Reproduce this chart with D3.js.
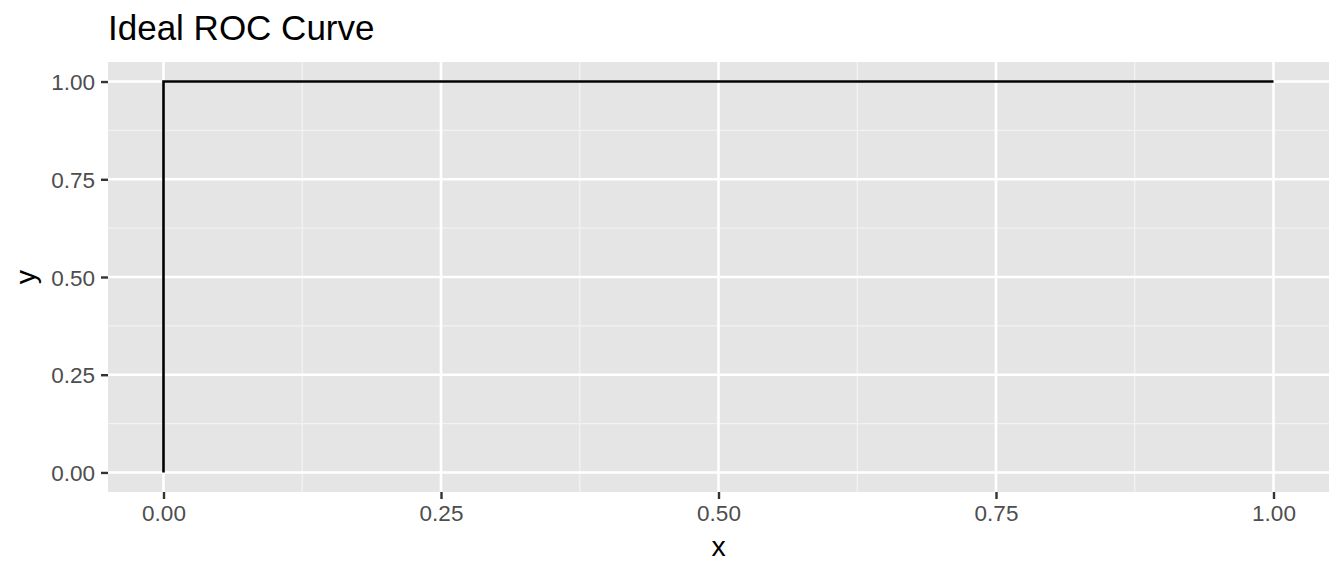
<!DOCTYPE html>
<html>
<head>
<meta charset="utf-8">
<script src="https://cdn.jsdelivr.net/npm/d3@7"></script>
<style>
  html, body { margin: 0; padding: 0; background: #fff; }
  svg { display: block; font-family: "Liberation Sans", Arial, Helvetica, sans-serif; }
</style>
</head>
<body>
<svg id="chart" width="1344" height="576"></svg>
<script>
// Data
const xValues = [0, 0, 1];
const yValues = [0, 1, 1];
const xTicks = [0, 0.25, 0.5, 0.75, 1];
const yTicks = [0, 0.25, 0.5, 0.75, 1];
const xMinor = [0.125, 0.375, 0.625, 0.875];
const yMinor = [0.125, 0.375, 0.625, 0.875];
const titleText = "Ideal ROC Curve";
const xLabel = "x";
const yLabel = "y";

const W = 1344, H = 576;
const panel = { left: 108, right: 1329, top: 62, bottom: 492 };

const svg = d3.select("#chart");

const x = d3.scaleLinear().domain([-0.05, 1.05]).range([panel.left, panel.right]);
const y = d3.scaleLinear().domain([-0.05, 1.05]).range([panel.bottom, panel.top]);

// panel background
svg.append("rect")
  .attr("x", panel.left).attr("y", panel.top)
  .attr("width", panel.right - panel.left)
  .attr("height", panel.bottom - panel.top)
  .attr("fill", "#E5E5E5");

const grid = svg.append("g");
// minor grid
grid.selectAll("line.xminor").data(xMinor).enter().append("line")
  .attr("x1", d => x(d)).attr("x2", d => x(d))
  .attr("y1", panel.top).attr("y2", panel.bottom)
  .attr("stroke", "#F2F2F2").attr("stroke-width", 1.3);
grid.selectAll("line.yminor").data(yMinor).enter().append("line")
  .attr("y1", d => y(d)).attr("y2", d => y(d))
  .attr("x1", panel.left).attr("x2", panel.right)
  .attr("stroke", "#F2F2F2").attr("stroke-width", 1.3);
// major grid
grid.selectAll("line.xmajor").data(xTicks).enter().append("line")
  .attr("x1", d => x(d)).attr("x2", d => x(d))
  .attr("y1", panel.top).attr("y2", panel.bottom)
  .attr("stroke", "#FFFFFF").attr("stroke-width", 2.6);
grid.selectAll("line.ymajor").data(yTicks).enter().append("line")
  .attr("y1", d => y(d)).attr("y2", d => y(d))
  .attr("x1", panel.left).attr("x2", panel.right)
  .attr("stroke", "#FFFFFF").attr("stroke-width", 2.6);

// line
const pts = xValues.map((d, i) => [d, yValues[i]]);
svg.append("path")
  .datum(pts)
  .attr("d", d3.line().x(d => x(d[0])).y(d => y(d[1])))
  .attr("fill", "none")
  .attr("stroke", "#000")
  .attr("stroke-width", 2.6)
  .attr("stroke-linejoin", "miter")
  .attr("stroke-linecap", "butt");

// axes
const fmt = d3.format(".2f");
const xAxis = svg.append("g")
  .attr("transform", `translate(0,${panel.bottom})`)
  .call(d3.axisBottom(x).tickValues(xTicks).tickFormat(fmt).tickSize(7).tickPadding(6));
const yAxis = svg.append("g")
  .attr("transform", `translate(${panel.left},0)`)
  .call(d3.axisLeft(y).tickValues(yTicks).tickFormat(fmt).tickSize(7).tickPadding(6));

[xAxis, yAxis].forEach(a => {
  a.select(".domain").remove();
  a.selectAll(".tick line").attr("stroke", "#333333").attr("stroke-width", 2.4);
  a.selectAll(".tick text")
    .attr("fill", "#4D4D4D")
    .style("font-size", "22.5px")
    .style("font-family", "'Liberation Sans', Arial, Helvetica, sans-serif");
});
yAxis.selectAll(".tick text").attr("dy", "0.36em");
xAxis.selectAll(".tick text").attr("dy", "0.72em");

// title
svg.append("text")
  .attr("x", panel.left).attr("y", 40)
  .attr("fill", "#000")
  .style("font-size", "35px")
  .text(titleText);

// axis titles
svg.append("text")
  .attr("x", (panel.left + panel.right) / 2).attr("y", 556)
  .attr("text-anchor", "middle")
  .attr("fill", "#000")
  .style("font-size", "28.5px")
  .text(xLabel);

svg.append("text")
  .attr("transform", `translate(35,${(panel.top + panel.bottom) / 2}) rotate(-90)`)
  .attr("text-anchor", "middle")
  .attr("fill", "#000")
  .style("font-size", "28.5px")
  .text(yLabel);
</script>
</body>
</html>
